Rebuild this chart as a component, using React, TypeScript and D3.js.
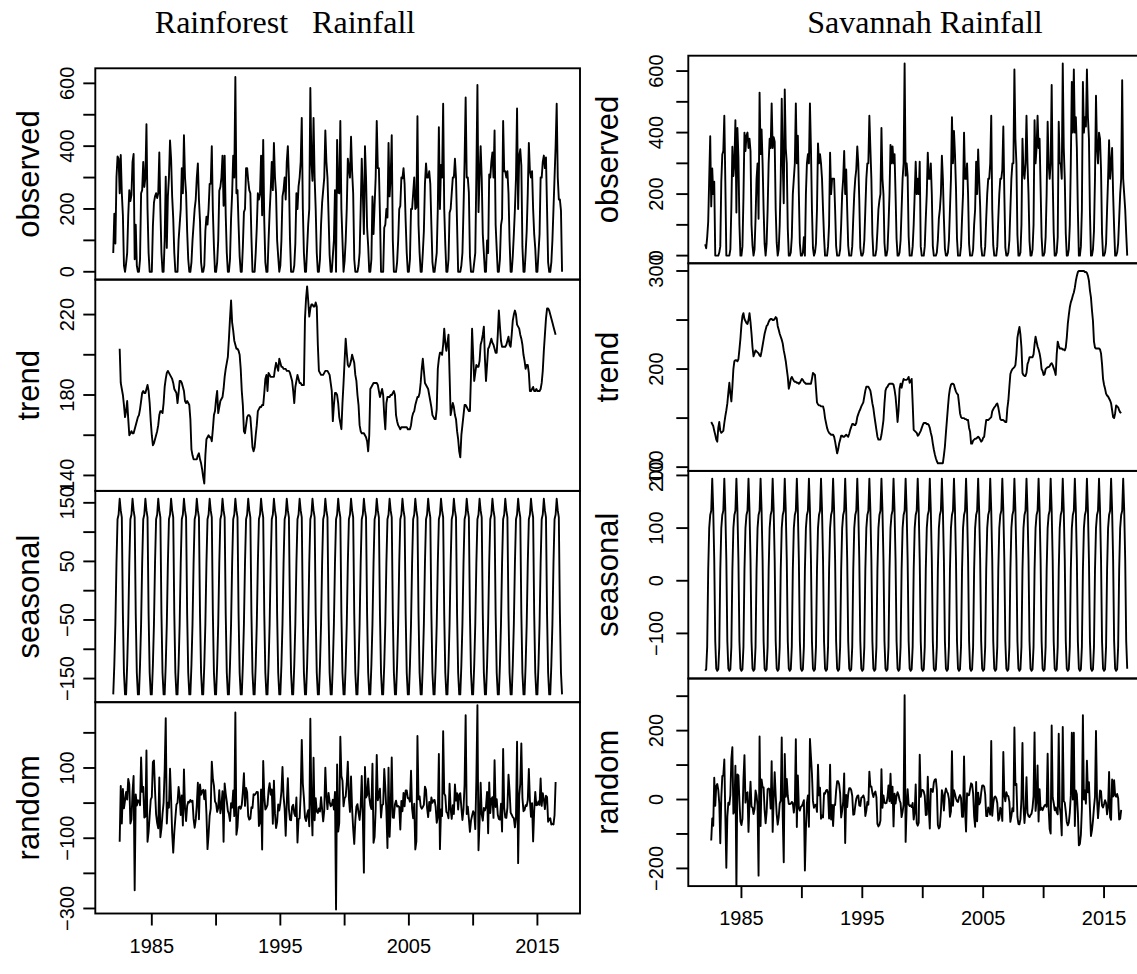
import React from "react";
import * as d3 from "d3";

// ---------------- DATA ----------------
const firstYear = 1982;
const frequency = 12;

// Rainforest observed monthly rainfall, Jan 1982 .. Dec 2016
const rainforestObserved: number[] = [
  60, 185, 90, 300, 367, 360, 250, 372, 250, 180, 20, 0,
  27, 60, 180, 260, 225, 245, 350, 375, 40, 150, 20, 0,
  0, 40, 250, 260, 350, 270, 300, 470, 200, 60, 0, 0,
  0, 145, 220, 240, 250, 235, 250, 380, 200, 60, 0, 0,
  100, 303, 76, 240, 300, 418, 360, 240, 170, 60, 0, 0,
  0, 100, 150, 200, 330, 250, 435, 300, 250, 129, 40, 0,
  0, 30, 100, 150, 200, 230, 300, 345, 230, 161, 30, 0,
  0, 20, 130, 175, 150, 200, 280, 280, 400, 193, 80, 0,
  0, 30, 100, 258, 270, 300, 370, 210, 370, 180, 60, 0,
  0, 40, 170, 250, 370, 300, 620, 250, 260, 150, 50, 0,
  0, 80, 190, 200, 330, 330, 290, 260, 250, 110, 0, 0,
  0, 60, 140, 250, 230, 248, 370, 180, 420, 160, 30, 0,
  0, 100, 190, 260, 350, 260, 410, 300, 250, 100, 48, 0,
  20, 100, 240, 260, 300, 230, 350, 400, 300, 104, 0, 0,
  0, 20, 90, 250, 200, 272, 300, 350, 490, 200, 60, 0,
  0, 75, 150, 200, 585, 350, 290, 490, 300, 200, 60, 0,
  0, 40, 150, 220, 260, 300, 450, 350, 300, 180, 54, 0,
  0, 50, 100, 260, 0, 420, 252, 250, 480, 200, 100, 0,
  34, 100, 200, 360, 330, 300, 430, 320, 250, 40, 0, 0,
  0, 20, 60, 200, 360, 250, 120, 400, 300, 140, 82, 0,
  0, 40, 240, 120, 212, 300, 480, 330, 330, 180, 0, 0,
  0, 140, 150, 200, 173, 410, 240, 300, 435, 100, 0, 0,
  0, 30, 100, 200, 210, 300, 298, 330, 280, 160, 60, 0,
  0, 40, 200, 200, 250, 300, 200, 205, 495, 150, 60, 0,
  0, 60, 130, 280, 345, 300, 300, 320, 280, 150, 31, 0,
  0, 30, 60, 200, 460, 200, 340, 300, 535, 200, 87, 0,
  0, 40, 188, 200, 250, 300, 300, 360, 300, 150, 0, 0,
  0, 20, 60, 200, 350, 555, 300, 300, 253, 50, 0, 0,
  0, 30, 60, 309, 595, 190, 300, 400, 300, 120, 60, 0,
  0, 100, 60, 310, 300, 350, 380, 300, 450, 150, 72, 0,
  0, 40, 148, 170, 480, 320, 320, 300, 320, 250, 100, 0,
  0, 50, 120, 200, 300, 520, 200, 370, 390, 338, 80, 0,
  0, 60, 130, 250, 410, 320, 300, 320, 200, 120, 74, 0,
  0, 60, 120, 300, 300, 350, 370, 330, 364, 200, 30, 0,
  0, 30, 100, 200, 300, 400, 535, 300, 230, 230, 195, 0,
];

// Rainforest trend (centred moving average), Jul 1982 .. Jun 2016
const rainforestTrend: number[] = [
  203, 186, 183, 180, 175, 169, 172, 177, 168, 160, 161, 162,
  161, 161, 163, 165, 167, 169, 170, 173, 177, 181, 182, 181,
  181, 183, 185, 182, 176, 167, 160, 155, 156, 158, 160, 162,
  165, 170, 172, 172, 171, 176, 184, 188, 191, 192, 191, 190,
  189, 188, 186, 183, 182, 181, 176, 181, 187, 187, 186, 184,
  182, 177, 176, 177, 176, 175, 168, 153, 150, 148, 148, 148,
  148, 150, 151, 148, 146, 143, 139, 136, 150, 158, 159, 160,
  159, 159, 157, 163, 170, 172, 178, 182, 171, 174, 177, 178,
  179, 183, 189, 193, 196, 199, 208, 218, 227, 216, 212, 207,
  205, 203, 203, 202, 200, 193, 182, 175, 162, 161, 165, 169,
  170, 170, 169, 162, 154, 152, 154, 160, 165, 172, 173, 174,
  174, 175, 175, 181, 188, 190, 182, 191, 190, 189, 189, 189,
  189, 193, 196, 194, 192, 198, 196, 194, 194, 193, 193, 193,
  192, 192, 192, 191, 189, 187, 182, 176, 184, 187, 190, 188,
  186, 186, 185, 185, 185, 218, 228, 234, 227, 219, 223, 225,
  225, 224, 224, 226, 224, 205, 192, 191, 190, 190, 190, 191,
  192, 192, 192, 191, 190, 186, 182, 167, 175, 181, 181, 180,
  176, 169, 166, 163, 176, 186, 197, 208, 201, 195, 194, 195,
  197, 200, 198, 196, 190, 187, 180, 175, 165, 162, 161, 161,
  161, 160, 159, 157, 152, 160, 183, 184, 185, 186, 186, 186,
  186, 185, 182, 179, 181, 183, 180, 170, 163, 176, 179, 179,
  179, 180, 180, 181, 182, 180, 170, 167, 165, 164, 163, 164,
  164, 164, 164, 164, 164, 163, 163, 163, 165, 169, 171, 172,
  175, 177, 179, 179, 181, 186, 193, 198, 192, 186, 185, 184,
  183, 180, 177, 174, 170, 169, 168, 168, 173, 193, 198, 201,
  201, 200, 205, 213, 206, 202, 206, 210, 190, 170, 173, 176,
  174, 170, 168, 162, 158, 152, 149, 160, 165, 170, 175, 175,
  174, 173, 172, 172, 190, 213, 200, 187, 191, 195, 194, 194,
  197, 205, 207, 210, 214, 198, 187, 195, 203, 204, 206, 208,
  206, 205, 203, 201, 201, 210, 222, 214, 207, 204, 204, 204,
  204, 205, 207, 209, 205, 204, 210, 217, 220, 222, 220, 215,
  214, 213, 210, 208, 205, 200, 197, 193, 195, 195, 191, 182,
  182, 183, 184, 182, 182, 183, 182, 182, 182, 183, 186, 192,
  202, 210, 218, 223, 223, 222, 220, 218, 216, 214, 212, 210,
];

// Rainforest seasonal figure, Jan .. Dec
const rainforestSeasonal: number[] = [-177, -127, -57, 47, 122, 130, 157, 137, 125, -40, -140, -177];

// Savannah observed monthly rainfall, Jan 1982 .. Dec 2016
const savannahObserved: number[] = [
  37, 24, 60, 110, 250, 388, 160, 283, 200, 240, 0, 0,
  0, 0, 10, 30, 240, 329, 340, 455, 240, 0, 0, 0,
  0, 20, 160, 354, 259, 300, 440, 140, 415, 320, 100, 0,
  0, 30, 190, 400, 340, 390, 400, 350, 380, 340, 100, 32,
  0, 20, 120, 250, 300, 120, 530, 330, 410, 300, 150, 38,
  0, 40, 150, 300, 380, 350, 495, 350, 385, 370, 150, 42,
  0, 20, 100, 250, 510, 300, 170, 540, 350, 300, 88, 0,
  0, 10, 60, 200, 250, 300, 495, 300, 390, 200, 39, 0,
  0, 10, 60, 0, 200, 300, 330, 300, 495, 350, 150, 25,
  0, 10, 40, 150, 365, 300, 330, 300, 250, 150, 61, 0,
  0, 0, 30, 100, 335, 200, 250, 250, 250, 150, 31, 0,
  0, 0, 20, 100, 200, 250, 340, 200, 280, 150, 32, 0,
  0, 0, 30, 120, 200, 250, 280, 355, 300, 180, 25, 0,
  0, 10, 50, 150, 250, 300, 300, 455, 350, 250, 69, 0,
  0, 0, 20, 80, 150, 180, 200, 415, 250, 200, 41, 0,
  0, 20, 100, 200, 360, 300, 355, 300, 330, 200, 55, 0,
  0, 10, 50, 150, 250, 300, 625, 260, 300, 260, 63, 0,
  0, 0, 30, 100, 200, 305, 200, 250, 200, 305, 30, 0,
  0, 0, 30, 120, 200, 335, 250, 250, 300, 200, 31, 0,
  0, 0, 10, 50, 120, 150, 200, 325, 250, 120, 23, 0,
  0, 10, 50, 150, 250, 450, 300, 405, 330, 220, 55, 0,
  0, 0, 30, 120, 200, 400, 250, 250, 300, 200, 38, 0,
  0, 0, 20, 100, 150, 305, 200, 345, 250, 160, 30, 0,
  0, 0, 30, 120, 200, 250, 250, 300, 455, 150, 33, 0,
  0, 0, 30, 120, 200, 250, 250, 280, 420, 200, 26, 0,
  0, 10, 50, 150, 250, 300, 300, 605, 380, 300, 67, 0,
  0, 10, 100, 380, 275, 250, 300, 455, 300, 200, 46, 0,
  0, 20, 100, 440, 300, 350, 455, 350, 380, 220, 61, 0,
  0, 10, 60, 200, 435, 300, 250, 300, 555, 250, 76, 0,
  0, 10, 60, 435, 300, 300, 250, 625, 350, 250, 72, 0,
  0, 20, 100, 300, 565, 400, 605, 400, 450, 350, 146, 0,
  0, 30, 150, 565, 400, 450, 420, 605, 450, 380, 138, 0,
  0, 20, 80, 250, 520, 350, 300, 400, 380, 280, 72, 0,
  0, 10, 40, 150, 250, 375, 250, 300, 350, 200, 91, 0,
  0, 10, 40, 120, 200, 250, 570, 250, 200, 150, 70, 0,
];

// Savannah trend, Jul 1982 .. Jun 2016
const savannahTrend: number[] = [
  146, 144, 142, 137, 133, 128, 126, 140, 146, 137, 135, 136,
  137, 145, 152, 158, 165, 176, 186, 175, 167, 182, 200, 208,
  209, 209, 208, 210, 220, 231, 245, 254, 257, 251, 249, 247,
  246, 250, 257, 248, 236, 222, 213, 216, 219, 218, 217, 216,
  214, 213, 218, 224, 230, 236, 240, 244, 245, 248, 250, 251,
  251, 250, 250, 251, 253, 252, 244, 240, 236, 233, 230, 226,
  219, 214, 208, 200, 192, 180, 184, 190, 192, 190, 188, 187,
  187, 186, 186, 185, 186, 188, 190, 189, 187, 186, 185, 185,
  185, 185, 185, 185, 190, 196, 195, 194, 180, 166, 164, 163,
  163, 162, 162, 162, 158, 150, 145, 140, 137, 135, 134, 133,
  133, 133, 131, 126, 120, 114, 118, 124, 128, 132, 132, 131,
  131, 132, 133, 132, 131, 134, 138, 141, 144, 144, 143, 143,
  145, 151, 154, 157, 159, 162, 164, 166, 172, 178, 182, 182,
  182, 180, 178, 172, 165, 160, 152, 145, 138, 131, 128, 128,
  128, 133, 140, 148, 165, 178, 181, 182, 184, 185, 185, 185,
  185, 184, 179, 172, 160, 146, 158, 180, 185, 181, 186, 190,
  189, 189, 189, 190, 192, 186, 188, 190, 165, 138, 137, 136,
  135, 132, 133, 135, 137, 140, 143, 145, 145, 145, 144, 144,
  143, 140, 135, 131, 124, 118, 113, 109, 106, 104, 104, 104,
  104, 104, 104, 112, 121, 135, 148, 161, 173, 180, 184, 185,
  185, 184, 180, 177, 175, 174, 165, 155, 151, 150, 150, 150,
  149, 149, 148, 148, 140, 136, 124, 124, 127, 128, 129, 129,
  130, 131, 130, 128, 126, 127, 130, 131, 140, 148, 148, 148,
  149, 150, 151, 157, 159, 161, 162, 164, 165, 161, 155, 149,
  148, 148, 148, 147, 146, 146, 160, 168, 182, 195, 198, 200,
  201, 202, 204, 215, 232, 238, 243, 235, 222, 196, 194, 193,
  193, 196, 205, 208, 212, 212, 212, 212, 215, 225, 233, 228,
  223, 220, 216, 210, 200, 198, 194, 195, 200, 201, 202, 202,
  203, 205, 206, 204, 201, 198, 194, 215, 228, 224, 221, 221,
  221, 220, 220, 219, 222, 232, 246, 255, 263, 268, 271, 275,
  278, 283, 290, 295, 299, 300, 300, 300, 300, 300, 300, 299,
  299, 298, 295, 290, 280, 273, 260, 249, 228, 222, 221, 221,
  221, 221, 220, 216, 205, 190, 184, 180, 175, 173, 172, 170,
  168, 165, 158, 151, 150, 155, 163, 162, 161, 158, 156, 155,
];

// Savannah seasonal figure, Jan .. Dec
const savannahSeasonal: number[] = [-171, -168, -125, 20, 100, 125, 133, 194, 134, 40, -115, -167];

const panelNames: string[] = ["observed", "trend", "seasonal", "random"];

// data ranges of each panel
const rainforestRanges: number[][] = [[0, 623], [136.2, 233.5], [-177, 157], [-292, 265]];
const savannahRanges: number[][] = [[0, 625], [104, 300], [-171, 194], [-229, 329]];

const rainforestTicks: number[][] = [
  [0, 100, 200, 300, 400, 500, 600],
  [140, 160, 180, 200, 220],
  [-150, -100, -50, 0, 50, 100, 150],
  [-300, -200, -100, 0, 100, 200],
];
const rainforestTickLabels: number[][] = [
  [0, 200, 400, 600],
  [140, 180, 220],
  [-150, -50, 50, 150],
  [-300, -100, 100],
];
const savannahTicks: number[][] = [
  [0, 100, 200, 300, 400, 500, 600],
  [100, 150, 200, 250, 300],
  [-100, 0, 100, 200],
  [-200, -100, 0, 100, 200, 300],
];
const savannahTickLabels: number[][] = [
  [0, 200, 400, 600],
  [100, 200, 300],
  [-100, 0, 100, 200],
  [-200, 0, 200],
];
const yearTicks: number[] = [1985, 1990, 1995, 2000, 2005, 2010, 2015];
const yearTickLabels: number[] = [1985, 1995, 2005, 2015];

// ---------------- DRAWING ----------------
type Pt = [number, number];

function buildSeries(obs: number[], trend: number[], seas: number[]): Pt[][] {
  const t = (i: number) => firstYear + i / frequency;
  const off = 6;
  const observed: Pt[] = obs.map((v, i) => [t(i), v]);
  const trendPts: Pt[] = trend.map((v, j) => [t(j + off), v]);
  const seasonal: Pt[] = obs.map((_, i) => [t(i), seas[i % frequency]]);
  const random: Pt[] = trend.map((v, j) => {
    const i = j + off;
    return [t(i), obs[i] - v - seas[i % frequency]];
  });
  return [observed, trendPts, seasonal, random];
}

const fmt = (v: number) => (v < 0 ? "\u2212" + Math.abs(v) : String(v));

const SANS = "'Liberation Sans', Arial, Helvetica, sans-serif";
const SERIF = "'Liberation Serif', 'Times New Roman', Times, serif";

type Layout = {
  id: string;
  title: string;
  titleX: number;
  left: number;
  right: number;
  top: number;
  h: number;
  tickLabelGap: number;
  yTitleX: number;
};

function DecompPlot(props: {
  layout: Layout;
  obs: number[];
  trend: number[];
  seas: number[];
  ranges: number[][];
  ticks: number[][];
  tickLabels: number[][];
}) {
  const { layout, obs, trend, seas, ranges, ticks, tickLabels } = props;
  const series = buildSeries(obs, trend, seas);
  const t0 = firstYear;
  const t1 = firstYear + (obs.length - 1) / frequency;
  const xpad = (t1 - t0) * 0.04;
  const x = d3.scaleLinear().domain([t0 - xpad, t1 + xpad]).range([layout.left, layout.right]);
  const sw = 1.9;
  const tickLen = 12;
  const bottomAll = layout.top + layout.h * 4;

  return (
    <g>
      <text x={layout.titleX} y={33} textAnchor="middle" fontFamily={SERIF} fontSize={32} fill="#000">
        {layout.title}
      </text>
      {series.map((pts, k) => {
        const top = layout.top + k * layout.h;
        const bottom = top + layout.h;
        const [lo, hi] = ranges[k];
        const pad = (hi - lo) * 0.04;
        const y = d3.scaleLinear().domain([lo - pad, hi + pad]).range([bottom, top]);
        const line = d3
          .line<Pt>()
          .x((d) => x(d[0]))
          .y((d) => y(d[1]));
        const clipId = `clip-${layout.id}-${k}`;
        const labelSet = new Set(tickLabels[k]);
        return (
          <g key={k}>
            <clipPath id={clipId}>
              <rect x={layout.left} y={top} width={layout.right - layout.left} height={layout.h} />
            </clipPath>
            <path
              d={line(pts) || ""}
              fill="none"
              stroke="#000"
              strokeWidth={sw}
              strokeLinejoin="round"
              clipPath={`url(#${clipId})`}
            />
            <rect
              x={layout.left}
              y={top}
              width={layout.right - layout.left}
              height={layout.h}
              fill="none"
              stroke="#000"
              strokeWidth={sw}
            />
            {ticks[k].map((v) => (
              <line
                key={"t" + v}
                x1={layout.left - tickLen}
                x2={layout.left}
                y1={y(v)}
                y2={y(v)}
                stroke="#000"
                strokeWidth={sw}
              />
            ))}
            {ticks[k]
              .filter((v) => labelSet.has(v))
              .map((v) => (
                <text
                  key={"l" + v}
                  transform={`translate(${layout.left - layout.tickLabelGap},${y(v)}) rotate(-90)`}
                  textAnchor="middle"
                  fontFamily={SANS}
                  fontSize={20}
                  fill="#000"
                >
                  {fmt(v)}
                </text>
              ))}
            <text
              transform={`translate(${layout.yTitleX},${(top + bottom) / 2}) rotate(-90)`}
              textAnchor="middle"
              fontFamily={SANS}
              fontSize={31}
              fill="#000"
            >
              {panelNames[k]}
            </text>
          </g>
        );
      })}
      {yearTicks.map((v) => (
        <line
          key={"x" + v}
          x1={x(v)}
          x2={x(v)}
          y1={bottomAll}
          y2={bottomAll + tickLen}
          stroke="#000"
          strokeWidth={sw}
        />
      ))}
      {yearTickLabels.map((v) => (
        <text key={"xl" + v} x={x(v)} y={bottomAll + 39} textAnchor="middle" fontFamily={SANS} fontSize={20} fill="#000">
          {v}
        </text>
      ))}
    </g>
  );
}

const leftLayout: Layout = {
  id: "rf",
  title: "Rainforest\u00a0\u00a0\u00a0Rainfall",
  titleX: 285,
  left: 95.3,
  right: 580,
  top: 68.3,
  h: 211.3,
  tickLabelGap: 21,
  yTitleX: 39,
};

const rightLayout: Layout = {
  id: "sv",
  title: "Savannah Rainfall",
  titleX: 925,
  left: 688.3,
  right: 1144.1,
  top: 55.7,
  h: 207.6,
  tickLabelGap: 25,
  yTitleX: 618,
};

export default function App() {
  return (
    <svg
      width={1137}
      height={974}
      viewBox="0 0 1137 974"
      style={{ position: "absolute", left: 0, top: 0, display: "block", background: "#fff" }}
    >
      <rect x={0} y={0} width={1137} height={974} fill="#fff" />
      <DecompPlot
        layout={leftLayout}
        obs={rainforestObserved}
        trend={rainforestTrend}
        seas={rainforestSeasonal}
        ranges={rainforestRanges}
        ticks={rainforestTicks}
        tickLabels={rainforestTickLabels}
      />
      <DecompPlot
        layout={rightLayout}
        obs={savannahObserved}
        trend={savannahTrend}
        seas={savannahSeasonal}
        ranges={savannahRanges}
        ticks={savannahTicks}
        tickLabels={savannahTickLabels}
      />
    </svg>
  );
}
